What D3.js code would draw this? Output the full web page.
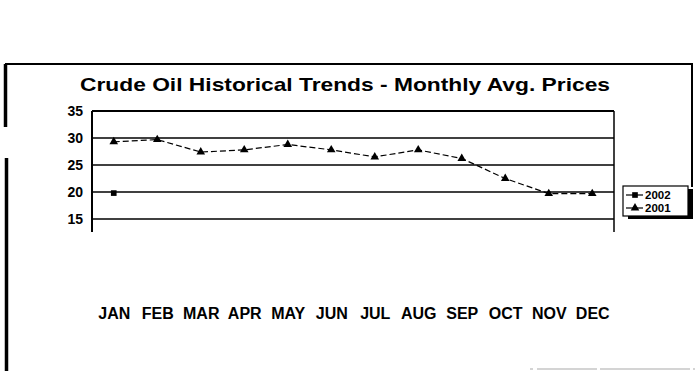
<!DOCTYPE html>
<html>
<head>
<meta charset="utf-8">
<script src="https://cdn.jsdelivr.net/npm/d3@7"></script>
<style>
  html, body { margin: 0; padding: 0; background: #fff; }
  svg { display: block; }
  text { font-family: "Liberation Sans", Arial, sans-serif; font-weight: bold; fill: #000; }
</style>
</head>
<body>
<svg id="chart" width="695" height="371"></svg>
<script>
// Monthly average crude oil prices (USD per barrel)
const months = ["JAN", "FEB", "MAR", "APR", "MAY", "JUN", "JUL", "AUG", "SEP", "OCT", "NOV", "DEC"];
const prices2001 = [29.3, 29.7, 27.4, 27.8, 28.8, 27.8, 26.5, 27.8, 26.2, 22.5, 19.7, 19.7];
const months2002 = ["JAN"];
const prices2002 = [19.8];
const yTicks = [15, 20, 25, 30, 35];
const seriesNames = ["2002", "2001"];
const titleText = "Crude Oil Historical Trends - Monthly Avg. Prices";

const svg = d3.select("#chart");

// plot area geometry
const plot = { left: 92, right: 614, top: 111, zeroY: 300, visibleBottom: 232 };

const x = d3.scalePoint().domain(months).range([plot.left, plot.right]).padding(0.5);
const y = d3.scaleLinear().domain([0, 35]).range([plot.zeroY, plot.top]);

// outer chart frame (top, right and the left edge pieces)
const frame = svg.append("g").attr("stroke", "#000").attr("fill", "none");
frame.append("line").attr("x1", 5).attr("x2", 693).attr("y1", 64).attr("y2", 64).attr("stroke-width", 2);
frame.append("line").attr("x1", 692).attr("x2", 692).attr("y1", 64).attr("y2", 187).attr("stroke-width", 2);
frame.append("line").attr("x1", 5.5).attr("x2", 5.5).attr("y1", 64).attr("y2", 127).attr("stroke-width", 3.5);
frame.append("line").attr("x1", 6.5).attr("x2", 6.5).attr("y1", 158).attr("y2", 371).attr("stroke-width", 3.5);
svg.append("line").attr("x1", 530).attr("x2", 695).attr("y1", 369).attr("y2", 369)
  .attr("stroke", "#aaa").attr("stroke-width", 1.2).attr("stroke-dasharray", "3,4,60,3,90");

// title
svg.append("text")
  .attr("x", 80).attr("y", 91)
  .attr("font-size", 19)
  .attr("textLength", 530).attr("lengthAdjust", "spacingAndGlyphs")
  .text(titleText);

// horizontal gridlines
svg.append("g")
  .selectAll("line")
  .data(yTicks)
  .join("line")
  .attr("x1", plot.left).attr("x2", plot.right)
  .attr("y1", d => y(d)).attr("y2", d => y(d))
  .attr("stroke", "#000")
  .attr("stroke-width", d => d === 35 ? 2 : 1.5);

// left value axis and right plot border
svg.append("line").attr("x1", plot.left).attr("x2", plot.left)
  .attr("y1", y(35)).attr("y2", plot.visibleBottom).attr("stroke", "#000").attr("stroke-width", 2);
svg.append("line").attr("x1", plot.right).attr("x2", plot.right)
  .attr("y1", y(35)).attr("y2", plot.visibleBottom).attr("stroke", "#000").attr("stroke-width", 1.5);

// value axis labels
const yAxis = svg.append("g")
  .attr("transform", `translate(${plot.left},0)`)
  .call(d3.axisLeft(y).tickValues(yTicks).tickSize(0).tickPadding(9));
yAxis.select(".domain").remove();
yAxis.selectAll("text").attr("font-size", 14).attr("font-family", null).attr("fill", "#000");

// category axis labels
const xAxis = svg.append("g")
  .attr("transform", `translate(0,${plot.zeroY})`)
  .call(d3.axisBottom(x).tickSize(0).tickPadding(8));
xAxis.select(".domain").remove();
xAxis.selectAll("text").attr("font-size", 16).attr("font-family", null).attr("fill", "#000");

// 2001 series: dashed line with triangles
const line = d3.line().x(d => x(d[0])).y(d => y(d[1]));
const pts2001 = months.map((m, i) => [m, prices2001[i]]);
svg.append("path")
  .datum(pts2001)
  .attr("d", line)
  .attr("fill", "none").attr("stroke", "#000").attr("stroke-width", 1.2)
  .attr("stroke-dasharray", "6,3");
const tri = d3.symbol().type(d3.symbolTriangle).size(32);
svg.append("g").selectAll("path")
  .data(pts2001)
  .join("path")
  .attr("transform", d => `translate(${x(d[0])},${y(d[1])})`)
  .attr("d", tri)
  .attr("fill", "#000");

// 2002 series: squares
const sq = d3.symbol().type(d3.symbolSquare).size(32);
const pts2002 = months2002.map((m, i) => [m, prices2002[i]]);
svg.append("g").selectAll("path")
  .data(pts2002)
  .join("path")
  .attr("transform", d => `translate(${x(d[0])},${y(d[1])})`)
  .attr("d", sq)
  .attr("fill", "#000");

// legend with drop shadow
const lg = svg.append("g").attr("transform", "translate(623,186)");
lg.append("rect").attr("x", 5).attr("y", 3).attr("width", 65).attr("height", 30).attr("fill", "#000");
lg.append("rect").attr("x", 0).attr("y", 0).attr("width", 65).attr("height", 30)
  .attr("fill", "#fff").attr("stroke", "#000").attr("stroke-width", 1.2);
const symbols = [sq, tri];
seriesNames.forEach((name, i) => {
  const row = lg.append("g").attr("transform", `translate(0,${9 + i * 13})`);
  row.append("line").attr("x1", 3).attr("x2", 20).attr("y1", 0).attr("y2", 0)
    .attr("stroke", "#000").attr("stroke-width", 1.2);
  row.append("path").attr("transform", "translate(12,0)").attr("d", symbols[i]).attr("fill", "#000");
  row.append("text").attr("x", 22).attr("y", 0).attr("dy", "0.35em")
    .attr("font-size", 11.5).text(name);
});
</script>
</body>
</html>
